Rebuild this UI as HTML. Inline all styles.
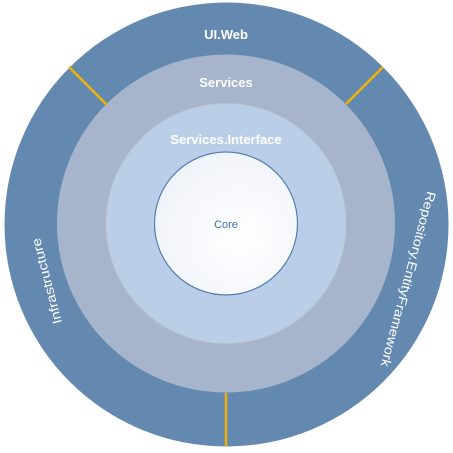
<!DOCTYPE html>
<html><head><meta charset="utf-8"><style>
html,body{margin:0;padding:0;background:#fff;width:453px;height:453px;overflow:hidden}
text{font-family:"Liberation Sans",sans-serif}
</style></head><body>
<svg width="453" height="453" viewBox="0 0 453 453" xmlns="http://www.w3.org/2000/svg">
<defs>
<radialGradient id="cg" cx="0.6" cy="0.6" r="0.7">
<stop offset="0" stop-color="#ffffff"/><stop offset="1" stop-color="#eef2f9"/>
</radialGradient>
</defs>
<circle cx="226.5" cy="224.5" r="222" fill="#6489b0"/>
<circle cx="226" cy="223.5" r="169" fill="#a6b5cb"/>
<circle cx="226" cy="223.5" r="120" fill="#bacfe7" stroke="#b9c4d2" stroke-width="1"/>
<circle cx="226" cy="223.5" r="71.5" fill="url(#cg)" stroke="#4f7fb3" stroke-width="1.2"/>
<line x1="69" y1="67" x2="107" y2="105" stroke="#f0b000" stroke-width="2.5"/>
<line x1="383" y1="67" x2="346" y2="104" stroke="#f0b000" stroke-width="2.5"/>
<line x1="226" y1="393" x2="226" y2="446" stroke="#f0b000" stroke-width="2.5"/>
<g fill="#fff" font-weight="bold" font-size="13" text-anchor="middle">
<text x="226" y="39">UI.Web</text>
<text x="226" y="87">Services</text>
<text x="226" y="144">Services.Interface</text>
</g>
<g fill="#fff" font-size="13" text-anchor="middle">
<text transform="translate(51,280) rotate(-104.5)" textLength="88" lengthAdjust="spacingAndGlyphs">Infrastructure</text>
<text transform="translate(404,278) rotate(105)" textLength="181" lengthAdjust="spacingAndGlyphs">Repository.EntityFramework</text>
</g>
<text x="226" y="228" fill="#3d72ad" font-size="11" text-anchor="middle">Core</text>
</svg>
</body></html>
